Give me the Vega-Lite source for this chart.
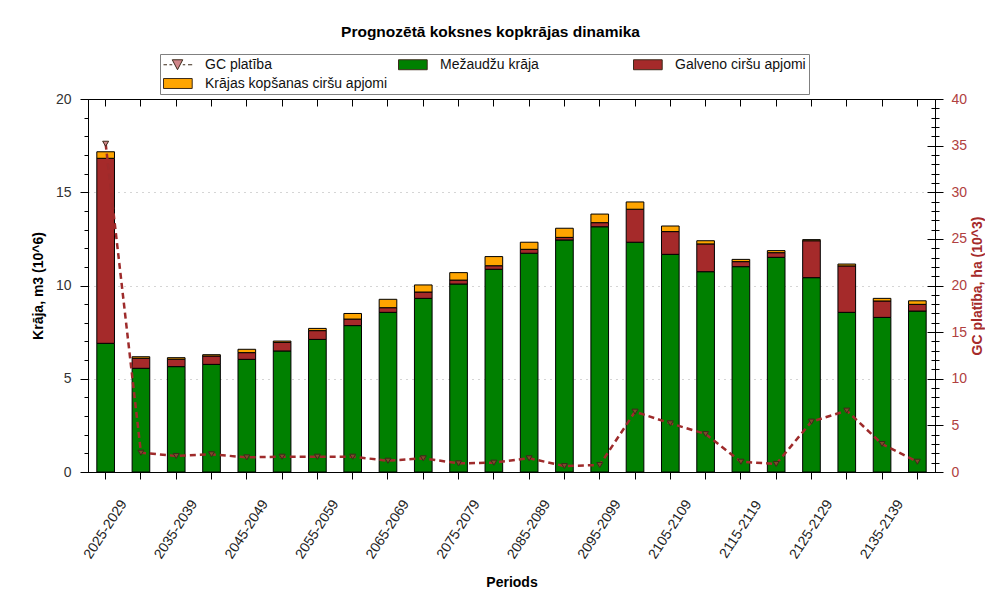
{
  "$schema": "https://vega.github.io/schema/vega-lite/v6.json",
  "autosize": {"type": "none"},
  "width": 847,
  "height": 373,
  "padding": {"left": 88, "top": 99, "right": 50, "bottom": 122},
  "background": "white",
  "config": {
    "font": "Liberation Sans",
    "view": {"stroke": "#000", "strokeWidth": 1},
    "axis": {"labelFont": "Liberation Sans", "titleFont": "Liberation Sans", "domainColor": "#000", "tickColor": "#000"}
  },
  "title": {"text": "Prognozētā koksnes kopkrājas dinamika", "fontSize": 15.5, "fontWeight": "bold", "color": "#000", "anchor": "middle", "dx": -21, "offset": 13},
  "datasets": {
    "d": [
      {"p": "2025-2029", "m": 6.9, "g": 9.92, "k": 0.35, "gc": 35.2},
      {"p": "2030-2034", "m": 5.56, "g": 0.54, "k": 0.08, "gc": 2.07},
      {"p": "2035-2039", "m": 5.65, "g": 0.4, "k": 0.08, "gc": 1.72},
      {"p": "2040-2044", "m": 5.77, "g": 0.45, "k": 0.07, "gc": 1.9},
      {"p": "2045-2049", "m": 6.04, "g": 0.36, "k": 0.18, "gc": 1.57},
      {"p": "2050-2054", "m": 6.49, "g": 0.46, "k": 0.07, "gc": 1.64},
      {"p": "2055-2059", "m": 7.11, "g": 0.47, "k": 0.12, "gc": 1.64},
      {"p": "2060-2064", "m": 7.85, "g": 0.35, "k": 0.3, "gc": 1.64},
      {"p": "2065-2069", "m": 8.56, "g": 0.25, "k": 0.45, "gc": 1.21},
      {"p": "2070-2074", "m": 9.31, "g": 0.34, "k": 0.38, "gc": 1.47},
      {"p": "2075-2079", "m": 10.08, "g": 0.21, "k": 0.4, "gc": 0.93},
      {"p": "2080-2084", "m": 10.87, "g": 0.19, "k": 0.49, "gc": 1.0},
      {"p": "2085-2089", "m": 11.73, "g": 0.21, "k": 0.38, "gc": 1.47},
      {"p": "2090-2094", "m": 12.44, "g": 0.14, "k": 0.49, "gc": 0.64},
      {"p": "2095-2099", "m": 13.15, "g": 0.22, "k": 0.46, "gc": 0.75},
      {"p": "2100-2104", "m": 12.32, "g": 1.77, "k": 0.39, "gc": 6.47},
      {"p": "2105-2109", "m": 11.67, "g": 1.22, "k": 0.3, "gc": 5.22},
      {"p": "2110-2114", "m": 10.74, "g": 1.49, "k": 0.17, "gc": 4.07},
      {"p": "2115-2119", "m": 11.01, "g": 0.27, "k": 0.12, "gc": 1.1},
      {"p": "2120-2124", "m": 11.51, "g": 0.25, "k": 0.11, "gc": 0.86},
      {"p": "2125-2129", "m": 10.42, "g": 1.98, "k": 0.06, "gc": 5.4},
      {"p": "2130-2134", "m": 8.56, "g": 2.49, "k": 0.1, "gc": 6.58},
      {"p": "2135-2139", "m": 8.29, "g": 0.88, "k": 0.14, "gc": 3.0},
      {"p": "2140-2144", "m": 8.63, "g": 0.36, "k": 0.19, "gc": 1.1}
    ]
  },
  "data": {"name": "d"},
  "resolve": {"scale": {"y": "independent"}},
  "layer": [
    {
      "transform": [
        {"fold": ["m", "g", "k"], "as": ["key", "value"]},
        {"calculate": "datum.key === 'm' ? 'Mežaudžu krāja' : datum.key === 'g' ? 'Galveno ciršu apjomi' : 'Krājas kopšanas ciršu apjomi'", "as": "series"},
        {"calculate": "indexof(['m','g','k'], datum.key)", "as": "ord"}
      ],
      "mark": {"type": "bar", "stroke": "#000", "strokeWidth": 1},
      "encoding": {
        "x": {
          "field": "p", "type": "nominal", "sort": null,
          "scale": {"paddingInner": 0.5, "paddingOuter": 0.25},
          "axis": {
            "orient": "bottom",
            "labelExpr": "(toNumber(slice(datum.value, 0, 4)) - 2025) % 10 === 0 ? datum.value : ''",
            "labelOverlap": false,
            "labelAngle": -57, "labelAlign": "center", "labelBaseline": "middle",
            "labelPadding": 50, "labelFontSize": 14, "labelColor": "#222",
            "tickSize": 7,
            "title": "Periods", "titleFontSize": 14, "titleFontWeight": "bold", "titleColor": "#000", "titlePadding": 15
          }
        },
        "y": {
          "field": "value", "type": "quantitative", "stack": "zero",
          "scale": {"domain": [0, 20], "nice": false},
          "axis": {
            "orient": "left",
            "values": [0,1,2,3,4,5,6,7,8,9,10,11,12,13,14,15,16,17,18,19,20],
            "labelExpr": "datum.value % 5 === 0 ? datum.label : ''",
            "tickSize": {"condition": {"test": "datum.value % 5 === 0", "value": 8}, "value": 4},
            "grid": true,
            "gridOpacity": {"condition": {"test": "datum.value % 5 === 0 && datum.value > 0 && datum.value < 20", "value": 1}, "value": 0},
            "gridDash": [1, 5], "gridColor": "#aaa",
            "labelFontSize": 14, "labelColor": "#333", "labelPadding": 9,
            "title": "Krāja, m3 (10^6)", "titleFontSize": 14, "titleFontWeight": "bold", "titleColor": "#000", "titlePadding": 10
          }
        },
        "fill": {
          "field": "series", "type": "nominal",
          "scale": {
            "domain": ["GC platība", "Mežaudžu krāja", "Galveno ciršu apjomi", "Krājas kopšanas ciršu apjomi"],
            "range": ["#d0868a", "#008000", "#a52a2a", "#ffa500"]
          },
          "legend": {
            "orient": "none", "legendX": 72, "legendY": -45, "direction": "horizontal",
            "values": ["GC platība", "Mežaudžu krāja", "Galveno ciršu apjomi", "Krājas kopšanas ciršu apjomi"],
            "columns": 3, "gridAlign": "all", "columnPadding": 8, "rowPadding": 4,
            "symbolSize": 196, "symbolStrokeColor": "#000", "symbolStrokeWidth": 1, "symbolOpacity": 1,
            "labelFontSize": 14, "labelColor": "#111", "labelOffset": 27, "labelLimit": 300,
            "padding": 3, "strokeColor": "#808080", "fillColor": "white", "title": null
          }
        },
        "order": {"field": "ord", "type": "quantitative", "sort": "ascending"}
      }
    },
    {
      "transform": [{"calculate": "'GC platība'", "as": "series"}],
      "mark": {"type": "line", "stroke": "#9e2b2b", "strokeWidth": 2.5, "strokeDash": [6, 4]},
      "encoding": {
        "x": {"field": "p", "type": "nominal", "sort": null,
          "axis": {"orient": "top", "labels": false, "title": null, "tickSize": -7, "domain": true}},
        "y": {"field": "gc", "type": "quantitative",
          "scale": {"domain": [0, 40], "nice": false},
          "axis": {
            "orient": "right",
            "values": [0,1,2,3,4,5,6,7,8,9,10,11,12,13,14,15,16,17,18,19,20,21,22,23,24,25,26,27,28,29,30,31,32,33,34,35,36,37,38,39,40],
            "labelExpr": "datum.value % 5 === 0 ? datum.label : ''",
            "tickSize": {"condition": {"test": "datum.value % 5 === 0", "value": 8}, "value": 4},
            "grid": false,
            "labelFontSize": 14, "labelColor": "#b04040", "labelPadding": 8,
            "title": "GC platība, ha (10^3)", "titleAngle": 270, "titleBaseline": "top", "titleFontSize": 14, "titleFontWeight": "bold", "titleColor": "#a52a2a", "titlePadding": 4
          }
        }
      }
    },
    {
      "transform": [{"calculate": "'GC platība'", "as": "series"}],
      "mark": {"type": "point", "shape": "M-0.5,-0.42H0.5L0,0.42Z", "size": 144, "filled": true, "stroke": "#3b2a1a", "strokeWidth": 1, "opacity": 1},
      "encoding": {
        "x": {"field": "p", "type": "nominal", "sort": null, "axis": null},
        "y": {"field": "gc", "type": "quantitative", "scale": {"domain": [0, 40], "nice": false},
          "axis": {
            "orient": "right",
            "values": [0,1,2,3,4,5,6,7,8,9,10,11,12,13,14,15,16,17,18,19,20,21,22,23,24,25,26,27,28,29,30,31,32,33,34,35,36,37,38,39,40],
            "labels": false, "domain": false, "grid": false, "title": null,
            "tickSize": {"condition": {"test": "datum.value % 5 === 0", "value": -8}, "value": -4}
          }
        },
        "fill": {
          "condition": {"test": "datum.p !== '2025-2029'", "value": "#7d4a2a"},
          "field": "series", "type": "nominal",
          "scale": {
            "domain": ["GC platība", "Mežaudžu krāja", "Galveno ciršu apjomi", "Krājas kopšanas ciršu apjomi"],
            "range": ["#d0868a", "#008000", "#a52a2a", "#ffa500"]
          }
        }
      }
    },
    {
      "transform": [{"calculate": "'GC platība'", "as": "series"}],
      "mark": {"type": "point", "opacity": 0, "size": 1},
      "encoding": {
        "x": {"field": "p", "type": "nominal", "sort": null, "axis": null},
        "y": {"field": "gc", "type": "quantitative", "scale": {"domain": [0, 40], "nice": false}, "axis": null},
        "shape": {
          "field": "series", "type": "nominal",
          "scale": {
            "domain": ["GC platība", "Mežaudžu krāja", "Galveno ciršu apjomi", "Krājas kopšanas ciršu apjomi"],
            "range": [
              "M-1,0H-0.5M-0.15,0H0.25M1.75,0H2.1M2.5,0H3.1M0.25,-0.71H1.75L1,0.71Z",
              "M-1,-0.71H3.1V0.71H-1Z",
              "M-1,-0.71H3.1V0.71H-1Z",
              "M-1,-0.71H3.1V0.71H-1Z"
            ]
          }
        }
      }
    }
  ]
}
